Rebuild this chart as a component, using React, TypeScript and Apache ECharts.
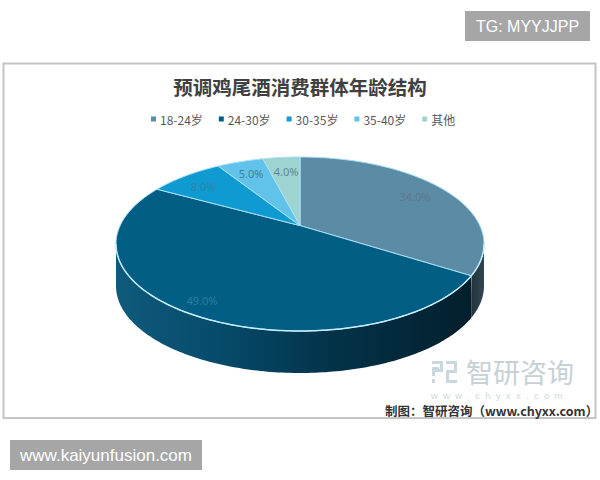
import React, { useEffect, useRef } from "react";
import * as echarts from "echarts";

const categories = ["18-24岁", "24-30岁", "30-35岁", "35-40岁", "其他"];
const shares = [34, 49, 8, 5, 4];
const shareLabels = ["34.0%", "49.0%", "8.0%", "5.0%", "4.0%"];
const colors = ["#5b8ba5", "#005e85", "#0f9bd1", "#62c3ea", "#9dd3d0"];
const labelColors = ["#5d7a8e", "#2f7c9c", "#3083a8", "#3f7f9f", "#5d8a90"];
const labelPositions = [[415, 196], [202, 300], [203, 186], [251, 173], [286, 171]];

const CX = 300, CY = 244, RX = 184, RY = 87, DEPTH = 42;
const PERSPECTIVE = 1.24;
const total = shares.reduce((s, v) => s + v, 0);

// Turn a share of the circle into the angle on the drawn ellipse: the front of
// the tilted disc is stretched and the back compressed, as in a perspective view.
function project(frac: number) {
  const b = frac * 2 * Math.PI - Math.PI;
  const bp = 2 * Math.atan2(PERSPECTIVE * Math.sin(b / 2), Math.cos(b / 2));
  return bp + Math.PI;
}
const rim = (t: number, dy = 0) => [CX + RX * Math.sin(t), CY - RY * Math.cos(t) + dy];
const APEX = [CX, CY - (RY * (PERSPECTIVE ** 2 - 1)) / (PERSPECTIVE ** 2 + 1)];

function arcPoints(a: number, b: number, dy = 0) {
  const n = Math.max(2, Math.ceil((b - a) / 0.02));
  const pts: number[][] = [];
  for (let i = 0; i <= n; i++) pts.push(rim(a + ((b - a) * i) / n, dy));
  return pts;
}

function wallGradient(i: number) {
  if (i === 0) {
    return new echarts.graphic.LinearGradient(0, 0, 1, 0, [
      { offset: 0, color: "#23343e" },
      { offset: 1, color: "#30464f" },
    ]);
  }
  return new echarts.graphic.LinearGradient(0, 0, 1, 0, [
    { offset: 0, color: "#0f5a7c" },
    { offset: 0.3, color: "#064a6a" },
    { offset: 0.6, color: "#033349" },
    { offset: 1, color: "#031f2d" },
  ]);
}

function makeSeries(i: number) {
  const before = shares.slice(0, i).reduce((s, v) => s + v, 0);
  return {
    type: "custom",
    name: categories[i],
    coordinateSystem: "none",
    itemStyle: { color: colors[i] },
    data: [[shares[i]]],
    silent: true,
    z: 3 + i,
    renderItem: (_p: unknown, api: any) => {
      const v = api.value(0);
      const a = project(before / total);
      const b = project((before + v) / total);
      const children: any[] = [];
      const front0 = Math.max(a, Math.PI / 2);
      const front1 = Math.min(b, (3 * Math.PI) / 2);
      if (front1 > front0) {
        const top = arcPoints(front0, front1);
        const bottom = arcPoints(front0, front1, DEPTH).reverse();
        children.push({
          type: "polygon",
          shape: { points: [...top, ...bottom] },
          style: { fill: wallGradient(i) },
        });
      }
      children.push({
        type: "polygon",
        shape: { points: [APEX, ...arcPoints(a, b)] },
        style: { fill: colors[i], stroke: "#a9e0f5", lineWidth: 1, lineJoin: "round" },
      });
      if (front1 > front0) {
        children.push({
          type: "polyline",
          shape: { points: arcPoints(front0, front1) },
          style: { fill: "none", stroke: "#c4ecfa", lineWidth: 1.5 },
        });
      }
      if (b > Math.PI / 2 && b < (3 * Math.PI) / 2) {
        const p = rim(b);
        children.push({
          type: "line",
          shape: { x1: p[0], y1: p[1], x2: p[0] - 2, y2: p[1] + DEPTH },
          style: { stroke: "#b9c9d0", lineWidth: 1.2 },
        });
      }
      const [lx, ly] = labelPositions[i];
      children.push({
        type: "text",
        z2: 10,
        style: {
          x: lx,
          y: ly,
          text: shareLabels[i],
          fill: labelColors[i],
          font: "11px 'Noto Sans', sans-serif",
          align: "center",
          verticalAlign: "middle",
        },
      });
      return { type: "group", children };
    },
  };
}

const LOGO_PATH =
  "M0 1H11V4H0Z M0 7H7V10H0Z M0 7H3V16H0Z M8 1H11V12H3V9H8Z M0 19H3V23H0Z " +
  "M14 1H25V4H14Z M22 1H25V13H14V10H22Z M14 10H17V20H25V23H14Z";
echarts.graphic.registerShape("zhiyanLogo", echarts.graphic.extendPath(LOGO_PATH, {}) as any);

export default function App() {
  const ref = useRef<HTMLDivElement>(null);
  useEffect(() => {
    const chart = echarts.init(ref.current!, undefined, { renderer: "svg" });
    chart.setOption({
      animation: false,
      backgroundColor: "#ffffff",
      title: {
        text: "预调鸡尾酒消费群体年龄结构",
        left: "center",
        top: 72,
        textStyle: { fontFamily: "'Noto Sans CJK SC'", fontSize: 19.5, fontWeight: 700, color: "#404040" },
      },
      legend: {
        data: categories,
        top: 108,
        left: 146,
        icon: "rect",
        itemWidth: 5,
        itemHeight: 5,
        itemGap: 16,
        textStyle: { fontFamily: "'Noto Sans CJK SC'", fontSize: 12, color: "#595959", padding: [0, 0, 0, -1] },
      },
      graphic: [
        {
          type: "rect",
          z: -1,
          shape: { x: 3.5, y: 63.5, width: 592, height: 354.5 },
          style: { fill: "#ffffff", stroke: "#c4c4c4", lineWidth: 2 },
        },
        { type: "rect", shape: { x: 465, y: 11, width: 125, height: 30 }, style: { fill: "#a6a6a6" } },
        {
          type: "text",
          style: {
            x: 527.5, y: 26, text: "TG: MYYJJPP", fill: "#ffffff",
            font: "16px 'Liberation Sans', sans-serif", align: "center", verticalAlign: "middle",
          },
        },
        { type: "rect", shape: { x: 10, y: 440, width: 192, height: 30 }, style: { fill: "#a6a6a6" } },
        {
          type: "text",
          style: {
            x: 106, y: 455, text: "www.kaiyunfusion.com", fill: "#ffffff",
            font: "17px 'Liberation Sans', sans-serif", align: "center", verticalAlign: "middle",
          },
        },
        { type: "zhiyanLogo", x: 432, y: 360, style: { fill: "#c9d8df" } },
        {
          type: "text",
          style: {
            x: 466, y: 371, text: "智研咨询", fill: "#c6d1d6",
            font: "27px 'Noto Sans CJK SC', sans-serif", align: "left", verticalAlign: "middle",
          },
        },
        {
          type: "text",
          style: {
            x: 431, y: 395, text: "w  w  w  .  c  h  y  x  x  .  c  o  m", fill: "#cfd8dc",
            font: "9.5px 'Liberation Sans', sans-serif", align: "left", verticalAlign: "middle",
          },
        },
        {
          type: "text",
          style: {
            x: 385, y: 410, text: "制图：智研咨询（www.chyxx.com）", fill: "#333333",
            font: "600 12.5px 'Noto Sans CJK SC', sans-serif", align: "left", verticalAlign: "middle",
          },
        },
      ],
      series: categories.map((_, i) => makeSeries(i)),
    });
    return () => chart.dispose();
  }, []);
  return <div ref={ref} style={{ position: "absolute", left: 0, top: 0, width: 600, height: 480 }} />;
}
